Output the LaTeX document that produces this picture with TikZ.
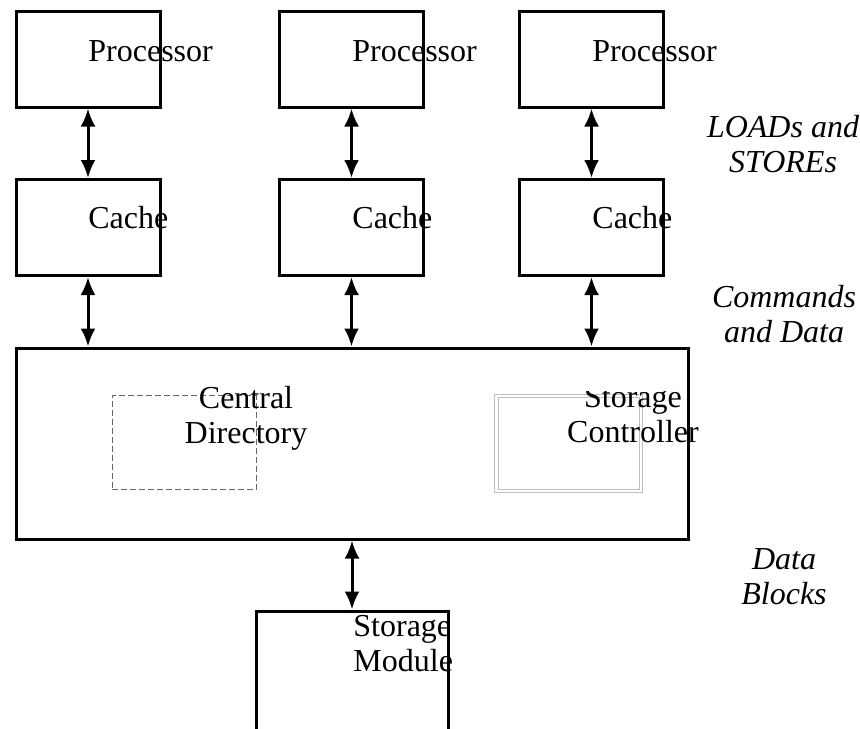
\documentclass[tikz,border=0pt]{standalone}
\usepackage{fontspec}
\setmainfont{Liberation Serif}
\usetikzlibrary{arrows.meta}
\newcommand{\twoline}[3]{\begin{tabular}[t]{@{}#1@{}}#2\\#3\end{tabular}}
\begin{document}
\begin{tikzpicture}[x=0.5pt,y=-0.5pt,
  box/.style={draw,line width=1.5pt,inner sep=0pt,minimum width=72pt,minimum height=48pt},
  lbl/.style={inner sep=0pt,font=\fontsize{16pt}{17.5pt}\selectfont},
  side/.style={inner sep=0pt,font=\fontsize{16pt}{17.5pt}\selectfont\itshape},
  biarrow/.style={line width=1.5pt,{Latex[length=9pt,width=7.5pt]}-{Latex[length=9pt,width=7.5pt]}},
  dirbox/.style={draw=black!60,line width=0.5pt,dash pattern=on 3pt off 1.5pt},
  ctlbox/.style={draw=black!25,line width=0.5pt},
]
\useasboundingbox (0,0) rectangle (860,728);
\clip (0,0) rectangle (860,728);

% processors
\node[box] (p1) at (88,59) {};
\node[box] (p2) at (351.5,59) {};
\node[box] (p3) at (591.5,59) {};
% caches
\node[box] (c1) at (88,227.5) {};
\node[box] (c2) at (351.5,227.5) {};
\node[box] (c3) at (591.5,227.5) {};
% big controller box
\node[draw,line width=1.5pt,inner sep=0pt,minimum width=336pt,minimum height=95.5pt] (big) at (352,443.5) {};
% storage module (runs off the bottom)
\node[draw,line width=1.5pt,inner sep=0pt,minimum width=96pt,minimum height=94.5pt] (sm) at (352,705.5) {};

% inner boxes
\node[dirbox,inner sep=0pt,minimum width=72pt,minimum height=47pt] (dir) at (184,442.5) {};
\node[ctlbox,inner sep=0pt,minimum width=74pt,minimum height=49pt] (ctlo) at (568,443) {};
\node[ctlbox,inner sep=0pt,minimum width=70.5pt,minimum height=46pt] (ctli) at (568.5,443) {};

% texts
\node[lbl,anchor=base west] (p1t) at (88,61) {Processor};
\node[lbl,anchor=base west] (p2t) at (352,61) {Processor};
\node[lbl,anchor=base west] (p3t) at (592,61) {Processor};
\node[lbl,anchor=base west] (c1t) at (88,228) {Cache};
\node[lbl,anchor=base west] (c2t) at (352,228) {Cache};
\node[lbl,anchor=base west] (c3t) at (592,228) {Cache};
\node[lbl,anchor=base] (dirt) at (246,408) {\twoline{c}{Central}{Directory}};
\begin{scope}
\clip (500,391) rectangle (720,480);
\node[lbl,anchor=base] (ctlt) at (633,407) {\twoline{c}{Storage}{Controller}};
\end{scope}
\node[lbl,anchor=base west] (smt) at (353,636) {\twoline{l}{Storage}{Module}};

\node[side,anchor=base] (l1) at (783,137) {\twoline{c}{LOADs and}{STOREs}};
\node[side,anchor=base] (l2) at (784,307) {\twoline{c}{Commands}{and Data}};
\node[side,anchor=base] (l3) at (784,569) {\twoline{c}{Data}{Blocks}};

% connectors
\draw[biarrow] (p1.south) -- (c1.north);
\draw[biarrow] (p2.south) -- (c2.north);
\draw[biarrow] (p3.south) -- (c3.north);
\draw[biarrow] (c1.south) -- (c1.south |- big.north);
\draw[biarrow] (c2.south) -- (c2.south |- big.north);
\draw[biarrow] (c3.south) -- (c3.south |- big.north);
\draw[biarrow] (big.south) -- (sm.north);
\end{tikzpicture}
\end{document}
